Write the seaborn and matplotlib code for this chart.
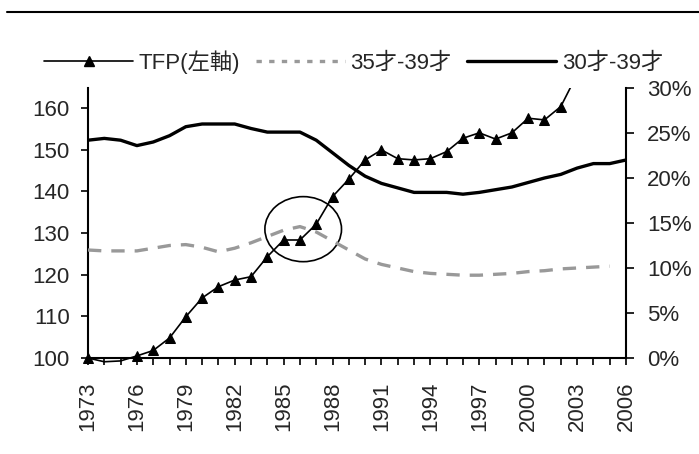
import matplotlib
matplotlib.use("Agg")
import matplotlib.pyplot as plt
import seaborn as sns
import pandas as pd
from matplotlib.patches import Ellipse, Rectangle
from matplotlib.lines import Line2D

# ---- data ----
tfp_years = list(range(1973, 2004))
tfp = [100.0, 99.1, 99.3, 100.5, 101.8, 104.8, 109.9, 114.4, 117.1, 118.7,
       119.5, 124.3, 128.3, 128.3, 132.1, 138.7, 142.9, 147.5, 149.9, 147.8,
       147.5, 147.8, 149.5, 152.7, 154.0, 152.5, 154.0, 157.5, 157.1, 160.3,
       168.0]
age35_years = list(range(1973, 2006))
age35 = [12.0, 11.9, 11.9, 11.9, 12.2, 12.5, 12.6, 12.3, 11.8, 12.2,
         12.8, 13.5, 14.2, 14.6, 14.0, 13.0, 12.0, 11.0, 10.4, 10.0,
         9.6, 9.4, 9.3, 9.2, 9.2, 9.3, 9.4, 9.6, 9.7, 9.9,
         10.0, 10.1, 10.2]
age30_years = list(range(1973, 2007))
age30 = [24.2, 24.4, 24.2, 23.6, 24.0, 24.7, 25.7, 26.0, 26.0, 26.0,
         25.5, 25.1, 25.1, 25.1, 24.2, 22.8, 21.4, 20.2, 19.4, 18.9,
         18.4, 18.4, 18.4, 18.2, 18.4, 18.7, 19.0, 19.5, 20.0, 20.4,
         21.1, 21.6, 21.6, 22.0]
tick_years = list(range(1973, 2007))
label_years = list(range(1973, 2007, 3))
left_ticks = [100, 110, 120, 130, 140, 150, 160]
right_ticks = [0, 5, 10, 15, 20, 25, 30]
labels = ["TFP(左軸)", "35才-39才", "30才-39才"]

FS = 16
sns.set_style("white")
plt.rcParams["font.family"] = ["Liberation Sans", "Noto Sans CJK JP", "DejaVu Sans"]
plt.rcParams["font.size"] = FS

fig = plt.figure(figsize=(6.99, 4.54), dpi=100)
ax = fig.add_axes([88 / 699, 1 - 358 / 454, (626 - 88) / 699, (358 - 88) / 454])
ax2 = ax.twinx()

df_tfp = pd.DataFrame({"year": tfp_years, "v": tfp})
df35 = pd.DataFrame({"year": age35_years, "v": age35})
df30 = pd.DataFrame({"year": age30_years, "v": age30})

mark_idx = [0] + list(range(3, len(tfp)))
sns.lineplot(data=df_tfp, x="year", y="v", ax=ax, color="black", lw=1.2,
             marker="^", markersize=7.5, markeredgecolor="black",
             markerfacecolor="black", markevery=mark_idx, zorder=3)
sns.lineplot(data=df35, x="year", y="v", ax=ax2, color="#999999", lw=2.4,
             linestyle=(0, (4, 3)))
sns.lineplot(data=df30, x="year", y="v", ax=ax2, color="black", lw=2.4)

# let the TFP line show slightly below the bottom axis, but clip at top
clip = Rectangle((-0.05, -0.06), 1.1, 1.06, transform=ax.transAxes,
                 facecolor="none", edgecolor="none")
ax.add_patch(clip)
tfp_line = ax.get_lines()[0]
tfp_line.set_clip_path(clip)

ax.add_patch(Ellipse((1986.2, 130.9), 4.7, 15.6, fill=False, edgecolor="black",
                     lw=1.2, zorder=4, clip_on=False))

ax.set_xlim(1973, 2006)
ax.set_ylim(100, 164.75)
ax2.set_ylim(0, 30)
ax.set_xticks(tick_years)
ax.set_xticklabels([str(y) if y in label_years else "" for y in tick_years],
                   rotation=90)
ax.set_yticks(left_ticks)
ax2.set_yticks(right_ticks)
ax2.set_yticklabels([f"{t}%" for t in right_ticks])
ax.set_xlabel("")
ax.set_ylabel("")
ax2.set_ylabel("")

for a in (ax, ax2):
    for s in a.spines.values():
        s.set_visible(False)
ax.spines["left"].set_visible(True)
ax.spines["bottom"].set_visible(True)
ax2.spines["right"].set_visible(True)
for s in (ax.spines["left"], ax.spines["bottom"], ax2.spines["right"]):
    s.set_linewidth(1.5)
    s.set_color("black")
ax.tick_params(axis="both", direction="out", length=5, width=1.2, color="black",
               left=True, bottom=True, labelsize=FS)
ax.tick_params(axis="y", pad=8)
ax.tick_params(axis="x", pad=12)
ax2.tick_params(axis="y", direction="out", length=6, width=1.2, color="black",
                right=True, labelsize=FS, pad=9)
ax.grid(False)
ax2.grid(False)

handles = [
    Line2D([], [], color="black", lw=1.2, marker="^", markersize=7.5,
           markerfacecolor="black", markeredgecolor="black"),
    Line2D([], [], color="#999999", lw=2.4, linestyle=(0, (1.6, 2.2))),
    Line2D([], [], color="black", lw=2.4),
]
fig.legend(handles, labels, loc="center", bbox_to_anchor=(0.506, 1 - 62 / 454),
           ncol=3, frameon=False, handlelength=4.0, handletextpad=0.25,
           columnspacing=0.7, borderaxespad=0, fontsize=FS)

fig.add_artist(Line2D([7 / 699, 1.0], [1 - 12 / 454] * 2, transform=fig.transFigure,
                      color="black", lw=1.5))

fig.savefig("out.png", dpi=100)
